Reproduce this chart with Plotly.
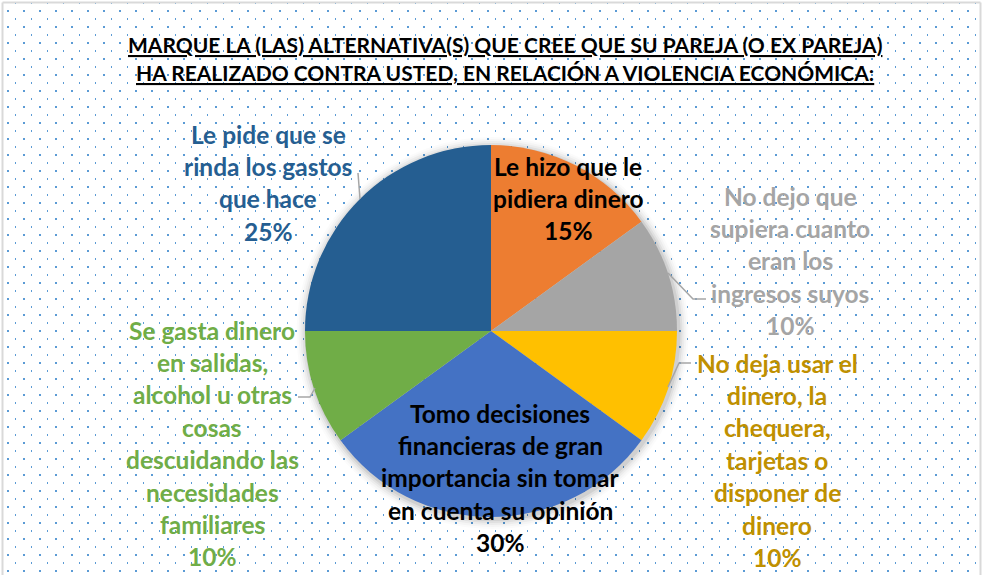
import base64
import plotly.graph_objects as go

# ---------------- data ----------------
title_lines = [
    "MARQUE LA (LAS) ALTERNATIVA(S) QUE CREE QUE SU PAREJA (O EX PAREJA)",
    "HA REALIZADO CONTRA USTED, EN RELACIÓN A VIOLENCIA ECONÓMICA:",
]
categories = [
    "Le hizo que le pidiera dinero",
    "No dejo que supiera cuanto eran los ingresos suyos",
    "No deja usar el dinero, la chequera, tarjetas o disponer de dinero",
    "Tomo decisiones financieras de gran importancia sin tomar en cuenta su opinión",
    "Se gasta dinero en salidas, alcohol u otras cosas descuidando las necesidades familiares",
    "Le pide que se rinda los gastos que hace",
]
label_lines = [
    ["Le hizo que le", "pidiera dinero"],
    ["No dejo que", "supiera cuanto", "eran los", "ingresos suyos"],
    ["No deja usar el", "dinero, la", "chequera,", "tarjetas o", "disponer de", "dinero"],
    ["Tomo decisiones", "financieras de gran", "importancia sin tomar", "en cuenta su opinión"],
    ["Se gasta dinero", "en salidas,", "alcohol u otras", "cosas", "descuidando las",
     "necesidades", "familiares"],
    ["Le pide que se", "rinda los gastos", "que hace"],
]
values = [15, 10, 10, 30, 10, 25]

# ---------------- style ----------------
W, H = 992, 575
slice_colors = ["#ED7D31", "#A5A5A5", "#FFC000", "#4472C4", "#70AD47", "#255E91"]
text_colors = ["#000000", "#A5A5A5", "#BF9000", "#000000", "#70AD47", "#255E91"]
# label block anchor (pixel x center, pixel y of first line)
label_pos = [(568, 166), (790, 196), (777, 363), (500, 413), (212, 330), (268, 134)]
line_gap = 32.4
FONT = "Lato"
FS = 24.5

# pie geometry in pixels
CX, CY, R = 491, 331, 186


def px(x):
    return x / W


def py(y):
    return 1 - y / H


# dotted background as an svg pattern image
svg = (
    f'<svg xmlns="http://www.w3.org/2000/svg" width="{W}" height="{H}" viewBox="0 0 {W} {H}">'
    '<defs><pattern id="p" x="0" y="0" width="16" height="16" patternUnits="userSpaceOnUse">'
    '<rect x="7" y="10" width="2" height="2" fill="#5B9BD5"/>'
    '<rect x="15" y="2" width="2" height="2" fill="#5B9BD5"/>'
    '</pattern></defs>'
    f'<rect x="3" y="3" width="977" height="{H - 3}" fill="url(#p)"/></svg>'
)
svg_uri = "data:image/svg+xml;base64," + base64.b64encode(svg.encode()).decode()

fig = go.Figure()
fig.add_trace(go.Pie(
    labels=categories,
    values=values,
    sort=False,
    direction="clockwise",
    rotation=0,
    marker=dict(colors=slice_colors, line=dict(width=0)),
    textinfo="none",
    hoverinfo="skip",
    showlegend=False,
    domain=dict(x=[px(CX - R), px(CX + R)], y=[py(CY + R), py(CY - R)]),
))

shapes = []
# soft shadow rings behind the pie
for k, op in [(10, 0.015), (8, 0.025), (6, 0.035), (4, 0.05), (2, 0.07)]:
    ox, oy = 1.5, 2
    shapes.append(dict(
        type="circle", xref="paper", yref="paper", layer="below",
        x0=px(CX + ox - R - k), x1=px(CX + ox + R + k),
        y0=py(CY + oy + R + k), y1=py(CY + oy - R - k),
        fillcolor=f"rgba(0,0,0,{op})", line=dict(width=0),
    ))
# chart border
border = "#D9D9D9"
for (x0, y0, x1, y1) in [(2.5, 2.5, 980.5, 2.5), (2.5, 2.5, 2.5, H), (980.5, 2.5, 980.5, H)]:
    shapes.append(dict(type="line", xref="paper", yref="paper", layer="below",
                       x0=px(x0), y0=py(y0), x1=px(x1), y1=py(y1),
                       line=dict(color=border, width=2)))
# leader lines
leaders = [
    [(358, 173), (360, 199)],
    [(668, 273), (693, 299), (706, 299)],
    [(668, 387), (679, 363), (691, 363)],
    [(298, 397), (310, 397), (315, 388)],
]
for pts in leaders:
    path = "M " + " L ".join(f"{px(x)},{py(y)}" for x, y in pts)
    shapes.append(dict(type="path", xref="paper", yref="paper", path=path,
                       line=dict(color="#A6A6A6", width=1.5)))

annotations = []
for i, t in enumerate(title_lines):
    annotations.append(dict(
        text=f"<b><u>{t}</u></b>", x=px(505), y=py(45 + 27 * i),
        xref="paper", yref="paper", showarrow=False, xanchor="center", yanchor="middle",
        font=dict(family=FONT, size=21, color="#000000"),
    ))

total = sum(values)
for i, lines in enumerate(label_lines):
    pct = f"{round(values[i] / total * 100)}%"
    all_lines = lines + [pct]
    x0, y0 = label_pos[i]
    for j, ln in enumerate(all_lines):
        annotations.append(dict(
            text=f"<b>{ln}</b>", x=px(x0), y=py(y0 + j * line_gap),
            xref="paper", yref="paper", showarrow=False, xanchor="center", yanchor="middle",
            font=dict(family=FONT, size=FS, color=text_colors[i]),
        ))

fig.update_layout(
    width=W, height=H,
    margin=dict(l=0, r=0, t=0, b=0),
    paper_bgcolor="#FFFFFF",
    plot_bgcolor="rgba(0,0,0,0)",
    images=[dict(source=svg_uri, xref="paper", yref="paper", x=0, y=1,
                 sizex=1, sizey=1, xanchor="left", yanchor="top",
                 sizing="stretch", layer="below")],
    shapes=shapes,
    annotations=annotations,
    xaxis=dict(visible=False), yaxis=dict(visible=False),
)

fig.write_html("out.html", config={"displayModeBar": False},
               post_script="document.body.style.margin='0';")
